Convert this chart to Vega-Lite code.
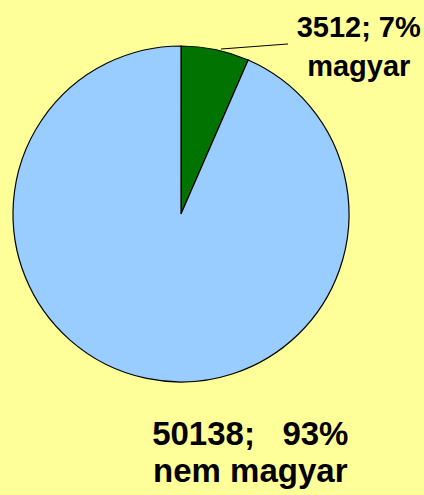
{
  "$schema": "https://vega.github.io/schema/vega-lite/v6.json",
  "width": 336,
  "height": 336,
  "autosize": {"type": "none"},
  "padding": {"left": 13, "top": 46, "right": 75, "bottom": 113},
  "background": "#FFFF99",
  "view": {"stroke": null},
  "config": {"font": "Liberation Sans"},
  "data": {"values": [
    {"group": "magyar", "count": 3512, "lines": ["3512; 7%", "magyar"]},
    {"group": "nem magyar", "count": 50138, "lines": ["50138;\u00a0\u00a0 93%", "nem magyar"]}
  ]},
  "encoding": {
    "theta": {"field": "count", "type": "quantitative", "stack": true},
    "order": {"field": "group", "sort": "ascending"}
  },
  "layer": [
    {
      "mark": {"type": "arc", "stroke": "#000000", "strokeWidth": 1.2},
      "encoding": {
        "color": {"field": "group", "type": "nominal", "scale": {"domain": ["magyar", "nem magyar"], "range": ["#007300", "#99CCFF"]}, "legend": null}
      }
    },
    {
      "transform": [{"filter": "datum.group === 'magyar'"}],
      "mark": {"type": "text", "radius": 170, "dx": 143, "dy": -20, "fontSize": 29, "fontWeight": "bold", "lineHeight": 39, "align": "center", "baseline": "middle", "color": "#000000"},
      "encoding": {"text": {"field": "lines", "type": "nominal"}}
    },
    {
      "transform": [{"filter": "datum.group === 'nem magyar'"}],
      "mark": {"type": "text", "radius": 168, "dx": 35, "dy": 57, "fontSize": 33, "fontWeight": "bold", "lineHeight": 37, "align": "center", "baseline": "middle", "color": "#000000"},
      "encoding": {"text": {"field": "lines", "type": "nominal"}}
    },
    {
      "data": {"values": [{}]},
      "mark": {"type": "rule", "color": "#000000", "strokeWidth": 1},
      "encoding": {
        "theta": null,
        "order": null,
        "x": {"datum": 0.238, "type": "quantitative", "scale": {"domain": [-1, 1]}, "axis": null},
        "x2": {"datum": 0.637},
        "y": {"datum": 0.982, "type": "quantitative", "scale": {"domain": [-1, 1]}, "axis": null},
        "y2": {"datum": 1.012}
      }
    }
  ]
}
